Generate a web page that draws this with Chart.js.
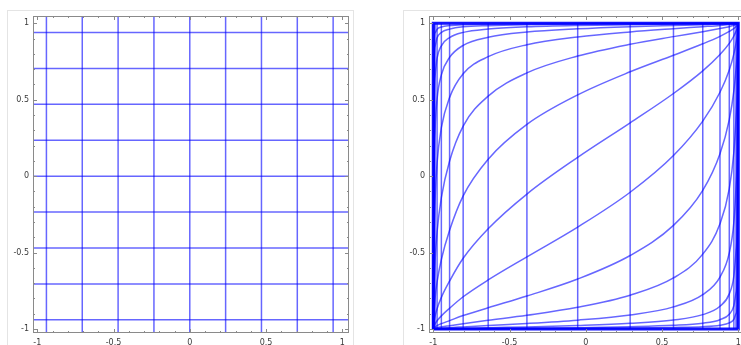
<!DOCTYPE html>
<html>
<head>
<meta charset="utf-8">
<script src="https://cdn.jsdelivr.net/npm/chart.js@4.4.1/dist/chart.umd.min.js"></script>
<style>
  html, body { margin: 0; padding: 0; background: #fff; width: 741px; height: 345px; overflow: hidden; position: relative; }
  .card { position: absolute; top: 10px; width: 347px; height: 360px; border: 1px solid #e4e4e4; box-sizing: border-box; }
  canvas { position: absolute; top: 10px; }
</style>
</head>
<body>
<div class="card" style="left:7px"></div>
<div class="card" style="left:403px"></div>
<canvas id="plain" width="347" height="335" style="left:7px"></canvas>
<canvas id="warped" width="347" height="335" style="left:403px"></canvas>
<script>
// Axis ranges and ticks shared by both panels
const xMin = -1.028, xMax = 1.044;
const yMin = -1.026, yMax = 1.048;
const majorTicks = [-1, -0.5, 0, 0.5, 1];
const minorTicks = [-0.9, -0.8, -0.7, -0.6, -0.4, -0.3, -0.2, -0.1, 0.1, 0.2, 0.3, 0.4, 0.6, 0.7, 0.8, 0.9];

// Square grid (left panel)
const gridX = [-0.94, -0.705, -0.47, -0.235, 0, 0.235, 0.47, 0.705, 0.94];
const gridY = [-0.94, -0.705, -0.47, -0.235, 0, 0.235, 0.47, 0.705, 0.94];

// Transformed grid (right panel): vertical line positions
const warpX = [-0.994, -0.988, -0.975, -0.947, -0.893, -0.804, -0.640, -0.386, -0.053,
               0.291, 0.575, 0.767, 0.880, 0.941, 0.971, 0.985, 0.993];

// Images of the horizontal grid lines: y at each warpX position (bottom curve first)
const curveM7 = [-1, -1, -1, -1, -1, -0.999, -0.999, -0.998, -0.996, -0.994, -0.990, -0.985, -0.975, -0.960, -0.937, -0.900, -0.842];
const curveM6 = [-1, -1, -1, -0.999, -0.999, -0.998, -0.997, -0.994, -0.991, -0.985, -0.976, -0.962, -0.939, -0.903, -0.848, -0.765, -0.646];
const curveM5 = [-1, -0.999, -0.999, -0.998, -0.997, -0.995, -0.991, -0.986, -0.977, -0.963, -0.941, -0.906, -0.851, -0.770, -0.653, -0.492, -0.290];
const curveM4 = [-0.999, -0.998, -0.997, -0.995, -0.991, -0.986, -0.977, -0.964, -0.942, -0.908, -0.855, -0.775, -0.660, -0.502, -0.301, -0.069, 0.170];
const curveM3 = [-0.997, -0.995, -0.991, -0.986, -0.978, -0.965, -0.943, -0.910, -0.858, -0.779, -0.666, -0.510, -0.312, -0.081, 0.158, 0.380, 0.566];
const curveM2 = [-0.992, -0.986, -0.978, -0.965, -0.945, -0.912, -0.861, -0.784, -0.673, -0.519, -0.322, -0.093, 0.147, 0.370, 0.558, 0.701, 0.804];
const curveM1 = [-0.979, -0.966, -0.946, -0.914, -0.864, -0.789, -0.679, -0.528, -0.333, -0.105, 0.135, 0.360, 0.549, 0.695, 0.800, 0.871, 0.919];
const curve0  = [-0.947, -0.916, -0.867, -0.793, -0.686, -0.537, -0.344, -0.117, 0.123, 0.349, 0.541, 0.689, 0.796, 0.869, 0.917, 0.948, 0.967];
const curveP1 = [-0.870, -0.798, -0.692, -0.545, -0.354, -0.129, 0.111, 0.339, 0.532, 0.683, 0.791, 0.866, 0.915, 0.947, 0.966, 0.979, 0.987];
const curveP2 = [-0.698, -0.553, -0.365, -0.141, 0.099, 0.328, 0.524, 0.676, 0.786, 0.863, 0.913, 0.945, 0.966, 0.978, 0.987, 0.992, 0.995];
const curveP3 = [-0.375, -0.152, 0.087, 0.317, 0.515, 0.670, 0.782, 0.860, 0.911, 0.944, 0.965, 0.978, 0.986, 0.992, 0.995, 0.997, 0.998];
const curveP4 = [0.075, 0.306, 0.506, 0.663, 0.777, 0.856, 0.909, 0.943, 0.964, 0.978, 0.986, 0.991, 0.995, 0.997, 0.998, 0.999, 0.999];
const curveP5 = [0.497, 0.656, 0.772, 0.853, 0.907, 0.941, 0.963, 0.977, 0.986, 0.991, 0.995, 0.997, 0.998, 0.999, 0.999, 1, 1];
const curveP6 = [0.768, 0.850, 0.905, 0.940, 0.962, 0.977, 0.985, 0.991, 0.995, 0.997, 0.998, 0.999, 0.999, 1, 1, 1, 1];
const curveP7 = [0.902, 0.938, 0.962, 0.976, 0.985, 0.991, 0.994, 0.997, 0.998, 0.999, 0.999, 1, 1, 1, 1, 1, 1];
const warpCurves = [curveM7, curveM6, curveM5, curveM4, curveM3, curveM2, curveM1, curve0,
                    curveP1, curveP2, curveP3, curveP4, curveP5, curveP6, curveP7];

const LINE = 'rgba(0, 0, 255, 0.6)';
const FRAME = '#8a8a8a';

function segment(points, extra) {
  return Object.assign({
    data: points,
    showLine: true,
    borderColor: LINE,
    borderWidth: 1.5,
    pointRadius: 0,
    fill: false,
    tension: 0
  }, extra || {});
}

// Frame with inward major/minor ticks on all four sides
const framePlugin = {
  id: 'frame',
  afterDatasetsDraw(chart) {
    const { ctx, chartArea: a, scales: { x, y } } = chart;
    ctx.save();
    ctx.strokeStyle = FRAME;
    ctx.lineWidth = 1;
    ctx.strokeRect(a.left + 0.5, a.top + 0.5, a.width - 1, a.height - 1);
    ctx.beginPath();
    const mark = (vals, len) => {
      vals.forEach(v => {
        const px = Math.round(x.getPixelForValue(v)) + 0.5;
        ctx.moveTo(px, a.bottom); ctx.lineTo(px, a.bottom - len);
        ctx.moveTo(px, a.top); ctx.lineTo(px, a.top + len);
        const py = Math.round(y.getPixelForValue(v)) + 0.5;
        ctx.moveTo(a.left, py); ctx.lineTo(a.left + len, py);
        ctx.moveTo(a.right, py); ctx.lineTo(a.right - len, py);
      });
    };
    mark(majorTicks, 4);
    mark(minorTicks, 2);
    ctx.stroke();
    ctx.restore();
  }
};

function axis(isX) {
  return {
    type: 'linear',
    min: isX ? xMin : yMin,
    max: isX ? xMax : yMax,
    grid: { display: false, drawTicks: false },
    border: { display: false },
    ticks: {
      padding: isX ? 5 : 4,
      autoSkip: false,
      maxRotation: 0,
      color: '#3a3a3a',
      font: { family: 'DejaVu Sans', size: 8 },
      callback: v => String(v)
    },
    afterBuildTicks: s => { s.ticks = majorTicks.map(v => ({ value: v })); },
    afterFit: s => {
      if (isX) { s.height = 12; } else { s.width = 20; }
      s.paddingTop = 0; s.paddingBottom = 0; s.paddingLeft = 0; s.paddingRight = 0;
    }
  };
}

function makeChart(id, datasets) {
  return new Chart(document.getElementById(id), {
    type: 'scatter',
    data: { datasets },
    options: {
      responsive: false,
      animation: false,
      devicePixelRatio: 1,
      events: [],
      layout: { padding: { left: 6, right: 5, top: 6, bottom: 0 } },
      plugins: { legend: { display: false }, tooltip: { enabled: false } },
      scales: { x: axis(true), y: axis(false) }
    },
    plugins: [framePlugin]
  });
}

// Left panel: straight grid
const plainSets = [];
gridX.forEach(gx => plainSets.push(segment([{ x: gx, y: yMin }, { x: gx, y: yMax }])));
gridY.forEach(gy => plainSets.push(segment([{ x: xMin, y: gy }, { x: xMax, y: gy }])));
makeChart('plain', plainSets);

// Right panel: transformed grid
const warpSets = [];
warpSets.push(segment([{ x: -1, y: -1 }, { x: 1, y: -1 }, { x: 1, y: 1 }, { x: -1, y: 1 }, { x: -1, y: -1 }],
  { borderColor: 'rgba(0, 0, 255, 0.92)', borderWidth: 3 }));
warpX.forEach(vx => warpSets.push(segment([{ x: vx, y: -1 }, { x: vx, y: 1 }])));
warpCurves.forEach(ys => {
  const pts = [{ x: -1, y: -1 }];
  warpX.forEach((vx, i) => pts.push({ x: vx, y: ys[i] }));
  pts.push({ x: 1, y: 1 });
  warpSets.push(segment(pts, { cubicInterpolationMode: 'monotone' }));
});
makeChart('warped', warpSets);
</script>
</body>
</html>
